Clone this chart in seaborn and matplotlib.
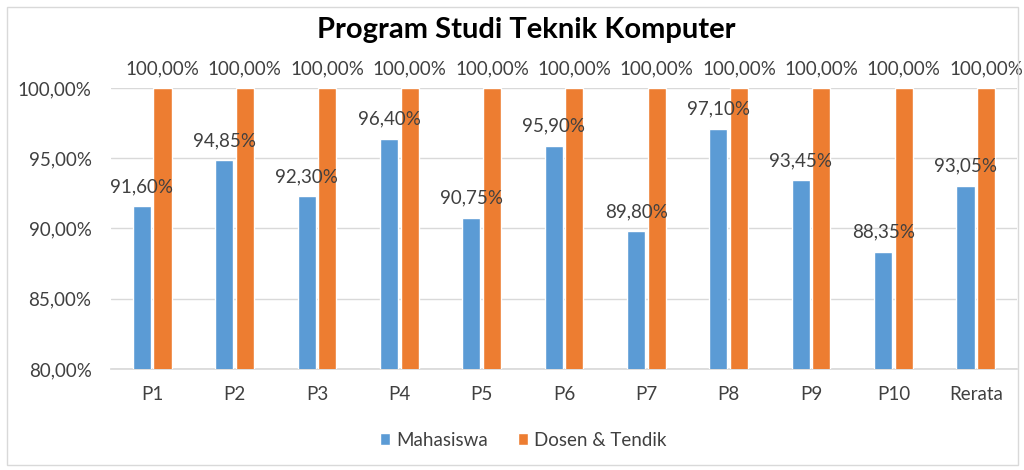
import matplotlib
matplotlib.use("Agg")
import matplotlib.pyplot as plt
import seaborn as sns
import pandas as pd
from matplotlib.patches import Rectangle
from matplotlib.ticker import FuncFormatter

categories = ["P1", "P2", "P3", "P4", "P5", "P6", "P7", "P8", "P9", "P10", "Rerata"]
mahasiswa = [91.60, 94.85, 92.30, 96.40, 90.75, 95.90, 89.80, 97.10, 93.45, 88.35, 93.05]
dosen_tendik = [100.0] * 11
series_names = ["Mahasiswa", "Dosen & Tendik"]
colors = ["#5B9BD5", "#ED7D31"]

df = pd.DataFrame({
    "cat": categories * 2,
    "val": mahasiswa + dosen_tendik,
    "series": [series_names[0]] * len(categories) + [series_names[1]] * len(categories),
})

sns.set_theme(style="white")
plt.rcParams["font.family"] = ["Lato", "DejaVu Sans"]

fig = plt.figure(figsize=(10.24, 4.7), dpi=100)
ax = fig.add_axes([111 / 1024, 1 - 369 / 470, 906 / 1024, 281 / 470])

sns.barplot(data=df, x="cat", y="val", hue="series", palette=colors,
            width=0.5, gap=0.12, ax=ax, saturation=1, legend=True, zorder=3)

ax.set_ylim(80, 100)
ax.set_yticks([80, 85, 90, 95, 100])
fmt = lambda v: f"{v:.2f}".replace(".", ",") + "%"
ax.yaxis.set_major_formatter(FuncFormatter(lambda v, p: fmt(v)))
ax.grid(axis="y", color="#D9D9D9", linewidth=1, zorder=0)
ax.set_axisbelow(True)
for s in ["left", "right", "top"]:
    ax.spines[s].set_visible(False)
ax.spines["bottom"].set_color("#D9D9D9")
ax.set_xlabel("")
ax.set_ylabel("")
ax.tick_params(axis="both", length=0, labelsize=13.5, colors="#404040")
ax.tick_params(axis="y", pad=14)
ax.tick_params(axis="x", pad=12)
ax.set_xlim(-0.5, len(categories) - 0.5)

for cont, vals in zip(ax.containers, [mahasiswa, dosen_tendik]):
    ax.bar_label(cont, labels=[fmt(v) for v in vals], padding=8, fontsize=13.5,
                 color="#404040", clip_on=False)

h, l = ax.get_legend_handles_labels()
ax.legend_.remove()
fig.legend(h, l, loc="center", bbox_to_anchor=(523 / 1024, 1 - 440 / 470), ncol=2,
           frameon=False, fontsize=13.5, handlelength=0.55, handleheight=0.55,
           columnspacing=1.6, handletextpad=0.3, labelcolor="#404040")

fig.text(526 / 1024, 1 - 30 / 470, "Program Studi Teknik Komputer", ha="center", va="center",
         fontsize=21, fontweight="bold", color="#000000")

fig.patches.append(Rectangle((7 / 1024, 5 / 470), 1011 / 1024, 458 / 470, transform=fig.transFigure,
                             fill=False, edgecolor="#D9D9D9", linewidth=1))

fig.savefig("out.png", dpi=100)
